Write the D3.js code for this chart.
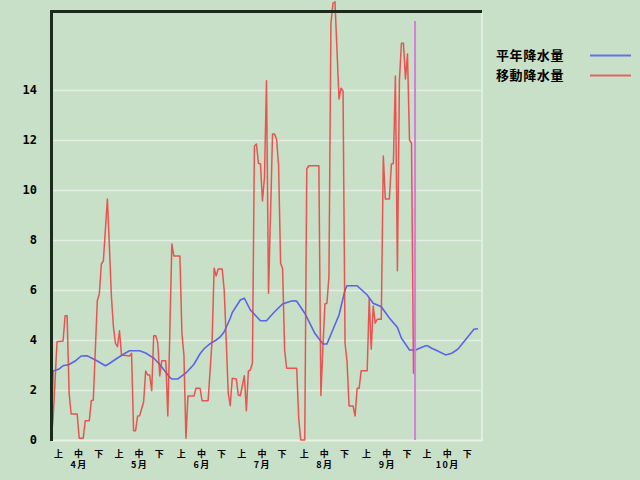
<!DOCTYPE html>
<html><head><meta charset="utf-8">
<script src="https://cdn.jsdelivr.net/npm/d3@7"></script>
<style>
body{margin:0;background:#c8e0c8;}
svg{display:block;}
text{font-family:"Noto Sans CJK JP","DejaVu Sans",sans-serif;fill:#000;}
</style>
</head><body>
<svg id="chart" width="640" height="480"></svg>
<script>
// ---- data (day offsets from April 1) ----
const normalDays = [0,1,4,6,9,12,15,18,23,27,29,33,37,39,44,47,51,54,59,60,63,67,71,74,76,79,82,84,86,89,90,94,96,99,104,107,111,115,119,121,122,126,131,135,137,143,146,147,152,157,160,164,168,172,174,178,181,183,186,187,189,191,196,199,202,206,210,212];
const normalVals = [0,2.76,2.84,2.97,3.02,3.16,3.36,3.37,3.16,2.97,3.06,3.28,3.48,3.57,3.57,3.48,3.28,3.02,2.5,2.44,2.44,2.68,3.03,3.45,3.65,3.85,4.0,4.12,4.33,4.87,5.1,5.6,5.67,5.2,4.77,4.77,5.13,5.44,5.55,5.57,5.55,5.07,4.27,3.84,3.84,5.0,6.0,6.17,6.17,5.8,5.47,5.33,4.88,4.5,4.07,3.6,3.6,3.67,3.77,3.77,3.67,3.6,3.4,3.47,3.63,4.03,4.43,4.45];

const movingDays = [0,1,3,6,7,8,9,10,13,14,16,17,19,20,21,23,24,25,26,28,29,30,31,32,33,34,35,39,40,41,42,43,44,46,47,48,49,50,51,52,53,54,55,57,58,59,60,61,64,65,66,67,68,71,72,74,75,78,80,81,82,83,85,86,87,88,89,90,92,93,94,96,97,98,99,100,101,102,103,104,105,106,107,108,110,111,112,113,114,115,116,117,122,123,124,126,127,128,133,134,135,136,137,138,139,140,141,142,143,144,145,146,147,148,150,151,152,153,154,157,158,159,160,161,162,164,165,166,168,169,170,171,172,173,174,175,176,177,178,179,180,181];
const movingVals = [0,0.8,3.93,3.96,4.97,4.97,1.87,1.04,1.04,0.07,0.07,0.77,0.77,1.57,1.6,5.57,5.84,7.04,7.16,9.64,7.73,5.73,4.53,3.87,3.73,4.37,3.4,3.36,3.47,0.37,0.37,0.96,0.97,1.53,2.76,2.6,2.6,1.97,4.17,4.17,3.9,2.56,3.17,3.17,0.96,4.3,7.84,7.36,7.36,4.27,3.4,0.07,1.76,1.76,2.07,2.07,1.57,1.57,4.0,6.87,6.56,6.84,6.84,6.0,4.0,1.87,1.37,2.47,2.44,1.8,1.77,2.57,1.17,2.76,2.8,3.07,11.76,11.84,11.07,11.04,9.56,10.5,14.37,5.87,12.24,12.24,12.03,11.0,7.07,6.85,3.6,2.87,2.87,0.85,0,0,10.85,10.97,10.97,1.78,3.67,5.44,5.47,6.53,16.67,17.47,17.53,15.6,13.64,14.07,13.97,3.87,3.13,1.36,1.36,0.96,2.07,2.07,2.77,2.77,5.67,3.63,5.36,4.67,4.83,4.83,11.36,9.64,9.64,11.03,11.07,14.56,6.77,14.4,15.87,15.87,14.44,15.44,12.0,11.87,2.67,3.6];

const monthLabels = ["4月","5月","6月","7月","8月","9月","10月"];
const dekadLabels = ["上","中","下"];
const yTicks = [0,2,4,6,8,10,12,14];
const todayDay = 181;
const legendLabels = ["平年降水量","移動降水量"];
const seriesColors = ["#5a64e6","#ee3b3b"];

// ---- scales ----
const start = new Date(2000,3,1), end = new Date(2000,10,1);
const dayDate = d => d3.timeDay.offset(start, d);
const x = d3.scaleTime().domain([start,end]).range([51,482]);
const y = d3.scaleLinear().domain([0,14]).range([440,90]);

const svg = d3.select("#chart");
svg.append("rect").attr("width",640).attr("height",480).attr("fill","#c8e0c8");

// gridlines
svg.append("g").selectAll("line").data(yTicks.filter(v=>v>0)).join("line")
  .attr("x1",51).attr("x2",482)
  .attr("y1",d=>y(d)+0.5).attr("y2",d=>y(d)+0.5)
  .attr("stroke","#e4eee2").attr("stroke-width",1.5);

// bottom / right light frame
svg.append("line").attr("x1",51).attr("x2",482.5).attr("y1",y(0)+0.5).attr("y2",y(0)+0.5)
  .attr("stroke","#eaf2e8").attr("stroke-width",2);
svg.append("line").attr("x1",482).attr("x2",482).attr("y1",12).attr("y2",y(0)+1)
  .attr("stroke","#eaf2e8").attr("stroke-width",1.5);

// y axis labels
const yAxis = d3.axisLeft(y).tickValues(yTicks).tickSize(0).tickPadding(14).tickFormat(d3.format("d"));
const yg = svg.append("g").attr("transform","translate(51,0)").call(yAxis);
yg.select(".domain").remove();
yg.selectAll("text").style("font-family","'DejaVu Sans Mono',monospace").style("font-weight","bold")
  .style("font-size","12px").attr("fill","#000");

// x labels
const months = d3.range(monthLabels.length).map(i => new Date(2000,3+i,1));
const dk = [];
months.forEach(m => dekadLabels.forEach((t,k) => dk.push({t, date: d3.timeHour.offset(m, Math.round(24*(3.7+10*k)))})));
svg.append("g").selectAll("text").data(dk).join("text")
  .attr("x",d=>x(d.date)).attr("y",456.5).attr("text-anchor","middle")
  .style("font-size","9px").style("font-weight","bold").text(d=>d.t);
svg.append("g").selectAll("text").data(months).join("text")
  .attr("x",m=>x(d3.timeDay.offset(m,14))).attr("y",468).attr("text-anchor","middle")
  .style("font-size","9px").style("font-weight","bold").style("letter-spacing","1.5px")
  .text((m,i)=>monthLabels[i]);

// lines
const line = d3.line().x(d=>x(dayDate(d[0]))).y(d=>y(d[1]));
svg.append("path").datum(normalDays.map((d,i)=>[d,normalVals[i]]))
  .attr("d",line).attr("fill","none").attr("stroke",seriesColors[0]).attr("stroke-width",1.6);
svg.append("path").datum(movingDays.map((d,i)=>[d,movingVals[i]]))
  .attr("d",line).attr("fill","none").attr("stroke",seriesColors[1]).attr("stroke-width",1.5)
  .attr("stroke-opacity",0.85).attr("stroke-linejoin","round");

// dark top / left frame
svg.append("line").attr("x1",50).attr("x2",482).attr("y1",11.5).attr("y2",11.5)
  .attr("stroke","#1c2a1c").attr("stroke-width",3);
svg.append("line").attr("x1",51.5).attr("x2",51.5).attr("y1",10).attr("y2",y(0)+1)
  .attr("stroke","#1c2a1c").attr("stroke-width",3);

// today marker
svg.append("line").attr("x1",x(dayDate(todayDay))-0.5).attr("x2",x(dayDate(todayDay))-0.5)
  .attr("y1",21).attr("y2",y(0))
  .attr("stroke","#d77ce0").attr("stroke-width",2);

// legend
const lg = svg.append("g").selectAll("g").data(legendLabels).join("g")
  .attr("transform",(d,i)=>`translate(0,${55+i*20})`);
lg.append("text").attr("x",496).attr("y",0).attr("dy","0.35em")
  .style("font-size","13px").style("font-weight","bold").style("letter-spacing","0.6px").text(d=>d);
lg.append("line").attr("x1",590).attr("x2",631).attr("y1",0.5).attr("y2",0.5)
  .attr("stroke",(d,i)=>seriesColors[i]).attr("stroke-width",2).attr("stroke-opacity",(d,i)=>i?0.75:0.9);
</script>
</body></html>
